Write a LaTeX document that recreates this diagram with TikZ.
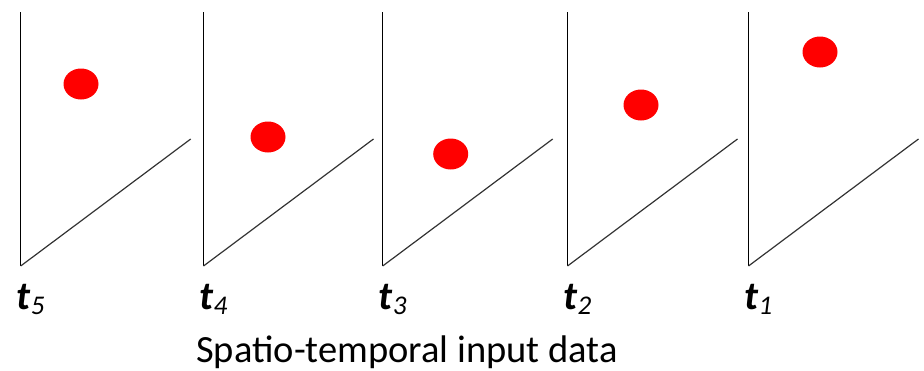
\documentclass[tikz,border=0pt]{standalone}
\usepackage{fontspec}
\setmainfont{Carlito}
\tikzset{
  axisline/.style={line width=1.5pt, black},
  diagline/.style={line width=1.2pt, black!80},
  dot/.style={fill=red, draw=none},
  tlabel/.style={anchor=base west, inner sep=0pt, font=\fontsize{40}{46}\selectfont\bfseries\itshape},
  caption/.style={anchor=base, inner sep=0pt, font=\fontsize{38.5}{44}\selectfont}
}
\newcommand{\tsub}[1]{t\raisebox{-5pt}{\fontsize{27}{32}\selectfont\mdseries\itshape #1}}
\begin{document}
\begin{tikzpicture}[x=1pt,y=-1pt]
\useasboundingbox (0,0) rectangle (924,370);
\foreach \X/\dx/\dy/\lab [count=\i] in {20.7/81/84/5, 203.5/268/137/4, 382.7/450.7/154/3, 567.5/641/105/2, 748.5/820/52/1}{
  \coordinate (top\i) at (\X,12);
  \coordinate (bot\i) at (\X,266);
  \coordinate (end\i) at (\X+170,139);
  \draw[axisline] (top\i) -- (bot\i);
  \draw[diagline] (bot\i) -- (end\i);
  \fill[dot] (\dx,\dy) ellipse [x radius=17.5, y radius=15.5];
  \node[tlabel] (lab\i) at (\X-4,309) {\tsub{\lab}};
}
\node[caption] (cap) at (407,362) {Spatio-temporal input data};
\end{tikzpicture}
\end{document}
